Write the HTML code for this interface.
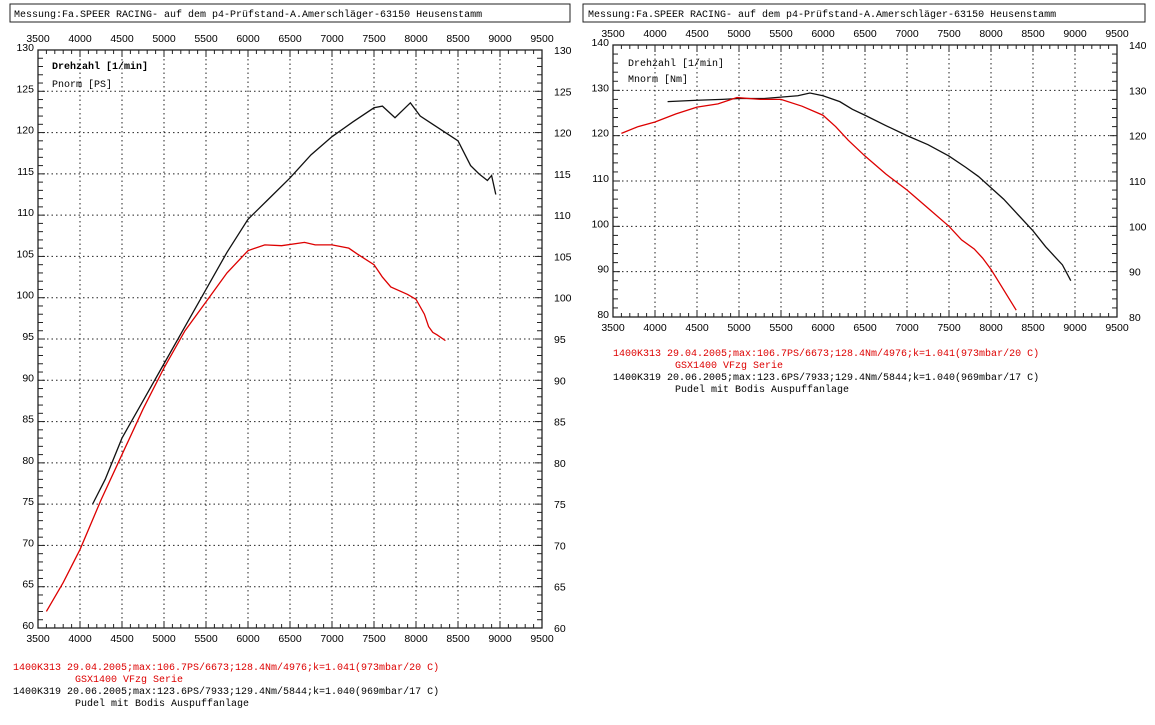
<!DOCTYPE html>
<html><head><meta charset="utf-8"><style>
body{margin:0;background:#fff;width:1155px;height:720px;overflow:hidden}
svg{font-family:"Liberation Sans",sans-serif}
.m{font-family:"Liberation Mono",monospace;font-size:10px}
</style></head><body>
<svg id="s" width="1155" height="720" xmlns="http://www.w3.org/2000/svg">
<rect x="10" y="4" width="560" height="18" fill="none" stroke="#222"/>
<text x="14" y="17" class="m" font-size="10">Messung:Fa.SPEER RACING- auf dem p4-Prüfstand-A.Amerschläger-63150 Heusenstamm</text>
<rect x="583" y="4" width="562" height="18" fill="none" stroke="#222"/>
<text x="588" y="17" class="m">Messung:Fa.SPEER RACING- auf dem p4-Prüfstand-A.Amerschläger-63150 Heusenstamm</text>
<g id="g"></g>
<text x="52" y="69" class="m" font-weight="bold">Drehzahl [1/min]</text>
<text x="52" y="87" class="m">Pnorm [PS]</text>
<text x="628" y="66" class="m">Drehzahl [1/min]</text>
<text x="628" y="82" class="m">Mnorm [Nm]</text>
<g fill="none" stroke-width="1.3" vector-effect="non-scaling-stroke">
<g transform="matrix(0.084 0 0 -8.257 -256 1123.4)">
<polyline vector-effect="non-scaling-stroke" stroke="#111" points="4150,75 4300,78 4500,83 4750,87.5 5000,92 5250,96.5 5500,101 5750,105.5 6000,109.5 6250,112 6500,114.5 6750,117.3 7000,119.5 7250,121.3 7500,123 7600,123.2 7750,121.8 7933,123.6 8050,122 8200,121 8350,120 8500,119 8650,116 8750,115 8850,114.2 8900,114.8 8950,112.5"/>
<polyline vector-effect="non-scaling-stroke" stroke="#d00" points="3600,62 3800,65.5 4000,69.5 4250,75.5 4500,81 4750,86.5 5000,91.5 5250,96 5500,99.5 5750,103 6000,105.7 6200,106.4 6400,106.3 6673,106.7 6800,106.4 7000,106.4 7200,106 7300,105.3 7500,104 7600,102.5 7700,101.3 7900,100.4 8000,99.8 8100,98 8150,96.5 8200,95.8 8250,95.5 8350,94.8"/>
</g>
<g transform="matrix(0.084 0 0 -4.533 319 679.6)">
<polyline vector-effect="non-scaling-stroke" stroke="#111" points="4150,127.5 4500,127.8 4800,128 5000,128.2 5300,128.2 5500,128.5 5700,128.8 5844,129.4 6000,128.8 6200,127.5 6350,125.8 6500,124.5 6750,122.2 7000,120 7250,118 7500,115.5 7700,113 7850,111 8000,108.5 8150,106 8300,103 8500,99 8650,95.5 8750,93.5 8850,91.5 8950,88"/>
<polyline vector-effect="non-scaling-stroke" stroke="#d00" points="3600,120.5 3800,122 4000,123 4250,124.8 4500,126.3 4750,127 4976,128.4 5250,128 5500,128 5750,126.5 6000,124.5 6150,122 6300,119 6500,115.5 6750,111.5 7000,108 7250,104 7500,100 7650,97 7800,95 7900,93 8000,90.5 8100,87.5 8200,84.5 8300,81.5"/>
</g>
</g>
<g class="m">
<text x="13" y="670" fill="#d00">1400K313  29.04.2005;max:106.7PS/6673;128.4Nm/4976;k=1.041(973mbar/20 C)</text>
<text x="75" y="682" fill="#d00">GSX1400 VFzg Serie</text>
<text x="13" y="694">1400K319  20.06.2005;max:123.6PS/7933;129.4Nm/5844;k=1.040(969mbar/17 C)</text>
<text x="75" y="706">Pudel mit Bodis Auspuffanlage</text>
<text x="613" y="356" fill="#d00">1400K313  29.04.2005;max:106.7PS/6673;128.4Nm/4976;k=1.041(973mbar/20 C)</text>
<text x="675" y="368" fill="#d00">GSX1400 VFzg Serie</text>
<text x="613" y="380">1400K319  20.06.2005;max:123.6PS/7933;129.4Nm/5844;k=1.040(969mbar/17 C)</text>
<text x="675" y="392">Pudel mit Bodis Auspuffanlage</text>
</g>
</svg>
<script>
var g=document.getElementById('g'),h='';
function chart(x0,x1,y0,y1,vmin,vmax,step){
 var w=x1-x0,ht=y1-y0;
 h+='<rect x="'+x0+'" y="'+y0+'" width="'+w+'" height="'+ht+'" fill="none" stroke="#222" stroke-width="1.3"/>';
 for(var r=3500;r<=9500;r+=100){var x=x0+(r-3500)/6000*w;
  var big=r%500==0;
  if(big&&r>3500&&r<9500)h+='<line x1="'+x+'" y1="'+y0+'" x2="'+x+'" y2="'+y1+'" stroke="#222" stroke-dasharray="1.5,3"/>';
  var L=big?7:4;
  h+='<line x1="'+x+'" y1="'+y0+'" x2="'+x+'" y2="'+(y0+L)+'" stroke="#222"/><line x1="'+x+'" y1="'+y1+'" x2="'+x+'" y2="'+(y1-L)+'" stroke="#222"/>';
  if(big){h+='<text x="'+x+'" y="'+(y0-8)+'" font-size="10.5" text-anchor="middle">'+r+'</text><text x="'+x+'" y="'+(y1+14)+'" font-size="10.5" text-anchor="middle">'+r+'</text>';}
 }
 var mstep=step/5;
 for(var v=vmin;v<=vmax+1e-6;v+=mstep){var y=y1-(v-vmin)/(vmax-vmin)*ht;
  var big=Math.abs(Math.round(v/step)*step-v)<1e-6;
  if(big&&v>vmin&&v<vmax)h+='<line x1="'+x0+'" y1="'+y+'" x2="'+x1+'" y2="'+y+'" stroke="#222" stroke-dasharray="1.5,3"/>';
  var L=big?7:5;
  h+='<line x1="'+x0+'" y1="'+y+'" x2="'+(x0+L)+'" y2="'+y+'" stroke="#222"/><line x1="'+x1+'" y1="'+y+'" x2="'+(x1-L)+'" y2="'+y+'" stroke="#222"/>';
  if(big){var t=Math.round(v);h+='<text x="'+(x0-4)+'" y="'+(y+1)+'" font-size="10.5" text-anchor="end">'+t+'</text><text x="'+(x1+12)+'" y="'+(y+4)+'" font-size="10.5">'+t+'</text>';}
 }
}
chart(38,542,50,628,60,130,5);
chart(613,1117,45,317,80,140,10);
g.innerHTML=h;
</script>
</body></html>
